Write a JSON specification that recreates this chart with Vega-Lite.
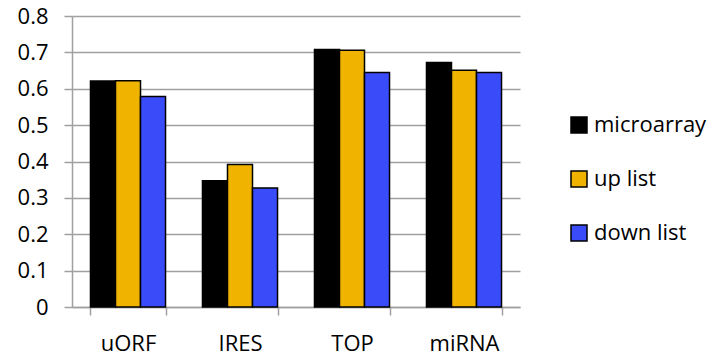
{
  "$schema": "https://vega.github.io/schema/vega-lite/v6.json",
  "width": 448,
  "height": 291,
  "autosize": {"type": "none"},
  "padding": {"left": 72, "top": 16, "right": 191, "bottom": 51},
  "background": "white",
  "config": {
    "font": "Open Sans",
    "view": {"stroke": null},
    "axis": {"labelFont": "Open Sans", "labelColor": "#000000"},
    "legend": {"labelFont": "Open Sans", "labelColor": "#000000"}
  },
  "data": {
    "values": [
      {"motif": "uORF", "list": "microarray", "value": 0.621},
      {"motif": "uORF", "list": "up list", "value": 0.622},
      {"motif": "uORF", "list": "down list", "value": 0.579},
      {"motif": "IRES", "list": "microarray", "value": 0.347},
      {"motif": "IRES", "list": "up list", "value": 0.392},
      {"motif": "IRES", "list": "down list", "value": 0.327},
      {"motif": "TOP", "list": "microarray", "value": 0.708},
      {"motif": "TOP", "list": "up list", "value": 0.706},
      {"motif": "TOP", "list": "down list", "value": 0.645},
      {"motif": "miRNA", "list": "microarray", "value": 0.672},
      {"motif": "miRNA", "list": "up list", "value": 0.651},
      {"motif": "miRNA", "list": "down list", "value": 0.645}
    ]
  },
  "mark": {"type": "bar", "stroke": "#000000", "strokeWidth": 1.5},
  "encoding": {
    "x": {
      "field": "motif",
      "type": "nominal",
      "sort": ["uORF", "IRES", "TOP", "miRNA"],
      "scale": {"paddingInner": 0.33, "paddingOuter": 0.165},
      "axis": {
        "title": null,
        "labelAngle": 0,
        "labelFontSize": 22,
        "labelPadding": 18,
        "tickBand": "extent",
        "ticks": true,
        "tickSize": 8,
        "tickColor": "#A0A0A0",
        "tickWidth": 1.5,
        "domainColor": "#A0A0A0",
        "domainWidth": 1.5,
        "grid": false
      }
    },
    "xOffset": {
      "field": "list",
      "type": "nominal",
      "sort": ["microarray", "up list", "down list"],
      "scale": {"paddingInner": 0, "paddingOuter": 0}
    },
    "y": {
      "field": "value",
      "type": "quantitative",
      "scale": {"domain": [0, 0.8], "nice": false},
      "axis": {
        "title": null,
        "values": [0, 0.1, 0.2, 0.3, 0.4, 0.5, 0.6, 0.7, 0.8],
        "format": "~g",
        "labelFontSize": 22,
        "labelPadding": 16,
        "tickSize": 8,
        "tickColor": "#A0A0A0",
        "tickWidth": 1.5,
        "domainColor": "#A0A0A0",
        "domainWidth": 1.5,
        "grid": true,
        "gridColor": "#A0A0A0",
        "gridWidth": 1.5
      }
    },
    "fill": {
      "field": "list",
      "type": "nominal",
      "sort": ["microarray", "up list", "down list"],
      "scale": {
        "domain": ["microarray", "up list", "down list"],
        "range": ["#000000", "#F0B400", "#3A4CFA"]
      },
      "legend": {
        "title": null,
        "orient": "none",
        "legendX": 496,
        "legendY": 98,
        "symbolType": "square",
        "symbolSize": 256,
        "symbolStrokeColor": "#000000",
        "symbolStrokeWidth": 1.5,
        "labelFontSize": 22,
        "labelOffset": 4,
        "rowPadding": 32,
        "padding": 0
      }
    }
  }
}
